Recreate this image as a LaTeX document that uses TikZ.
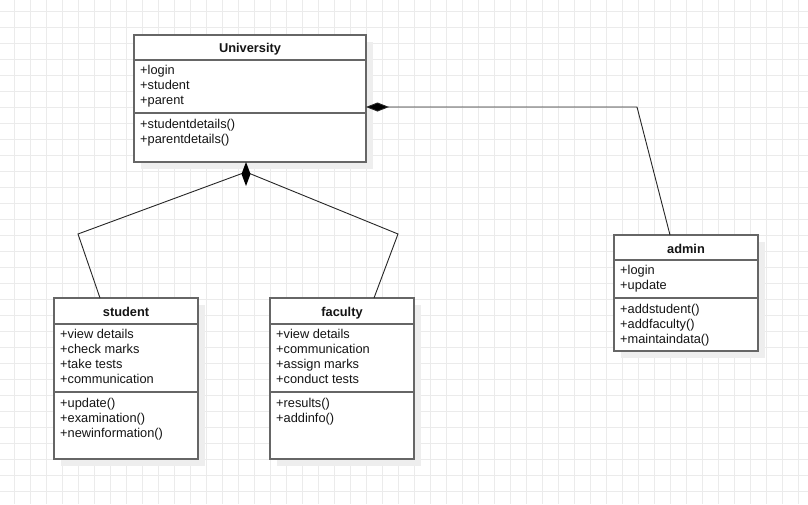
\documentclass[tikz,border=0pt]{standalone}
\usepackage{fontspec}
\setmainfont{Liberation Sans}
\usetikzlibrary{arrows.meta}
\definecolor{gridc}{HTML}{EBEBEB}
\definecolor{boxc}{HTML}{666666}
\definecolor{shadc}{HTML}{EEEEEE}
\definecolor{txtc}{HTML}{141414}
\tikzset{
  boxline/.style={draw=boxc, line width=1.5pt},
  boxnode/.style={draw=boxc, line width=1.5pt, fill=white, inner sep=0pt, outer sep=0pt},
  txt/.style={anchor=base west, inner sep=0pt, text=txtc, font=\fontsize{12.8}{15}\selectfont},
  ttl/.style={anchor=base, inner sep=0pt, text=txtc, font=\fontsize{12.8}{15}\selectfont\bfseries},
  conn/.style={draw=black!85, line width=0.9pt},
}
\newcommand\classbox[7]{%
  \fill[shadc] (#2+7,#3+7) rectangle (#4+7,#5+7);
  \node[boxnode, minimum width=#4-#2, minimum height=#5-#3, anchor=north west] (#1) at (#2,#3) {};
  \draw[boxline] (#2,#6) -- (#4,#6);
  \draw[boxline] (#2,#7) -- (#4,#7);
}
\newcommand\textlines[4]{%
  \foreach \t [count=\i] in {#4} {\node[txt] (#1\i) at (#2, #3+15*\i-15) {\t};}
}
\begin{document}
\begin{tikzpicture}[x=1pt,y=-1pt]
\useasboundingbox (0,0) rectangle (808,504);
\fill[white] (0,0) rectangle (808,504);
\foreach \gx in {14,30,...,798} {\draw[gridc, line width=1pt] (\gx,0) -- (\gx,504);}
\foreach \gy in {11,27,...,491} {\draw[gridc, line width=1pt] (0,\gy) -- (808,\gy);}

% University
\classbox{univ}{134}{35}{366}{162}{60}{113}
\node[ttl] (univt) at (250,52) {University};
\textlines{ua}{140}{74.3}{+login,+student,+parent}
\textlines{um}{140}{128}{+studentdetails(),+parentdetails()}

% student
\classbox{student}{54}{298}{198}{459}{324}{392}
\node[ttl] (studentt) at (126,316) {student};
\textlines{sa}{60}{338.3}{+view details,+check marks,+take tests,+communication}
\textlines{sm}{60}{407}{+update(),+examination(),+newinformation()}

% faculty
\classbox{faculty}{270}{298}{414}{459}{324}{392}
\node[ttl] (facultyt) at (342,316) {faculty};
\textlines{fa}{276}{338.3}{+view details,+communication,+assign marks,+conduct tests}
\textlines{fm}{276}{407}{+results(),+addinfo()}

% admin
\classbox{admin}{614}{235}{758}{351}{260}{298}
\node[ttl] (admint) at (686,253) {admin};
\textlines{aa}{620}{274.3}{+login,+update}
\textlines{am}{620}{313}{+addstudent(),+addfaculty(),+maintaindata()}

% connectors to University bottom
\coordinate (dc) at (246,172);
\coordinate (lc) at (78,234);
\coordinate (rc) at (398,234);
\coordinate (st) at (100,298);
\coordinate (ft) at (374,298);
\draw[conn] (st) -- (lc) -- (dc) -- (rc) -- (ft);
\fill[black] (246,162) -- (250.5,174) -- (246,186) -- (241.5,174) -- cycle;

% connector to admin
\coordinate (ur) at (366,107);
\coordinate (bend) at (637,107);
\coordinate (adt) at (670,235);
\draw[conn, {Diamond[length=23pt,width=9pt,fill=black]}-] (ur) -- (bend) -- (adt);
\end{tikzpicture}
\end{document}
